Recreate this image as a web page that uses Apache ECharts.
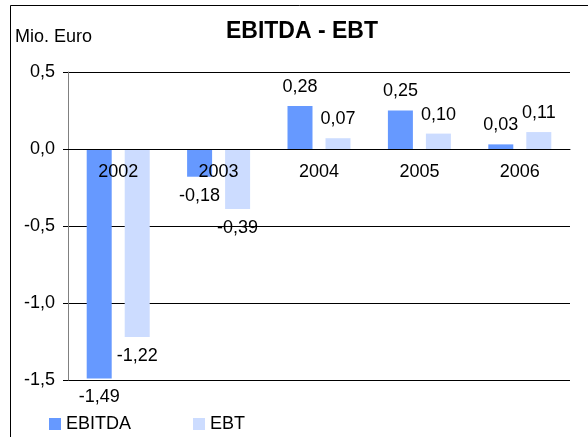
<!DOCTYPE html>
<html>
<head>
<meta charset="utf-8">
<script src="https://cdn.jsdelivr.net/npm/echarts@6/dist/echarts.min.js"></script>
<style>
  html, body { margin: 0; padding: 0; background: #fff; }
  #chart { width: 588px; height: 437px; }
</style>
</head>
<body>
<div id="chart"></div>
<script>
const years = ['2002', '2003', '2004', '2005', '2006']
const ebitda = [-1.49, -0.18, 0.28, 0.25, 0.03]
const ebt = [-1.22, -0.39, 0.07, 0.10, 0.11]

const font = 'Liberation Sans, Arial, sans-serif'
const comma = (v, d) => v.toFixed(d).replace('.', ',')

function valueLabels(values) {
  return values.map(v => ({
    value: v,
    label: { position: v < 0 ? 'bottom' : 'top', distance: 10 },
  }))
}

// grid is 308px tall, zero sits 231px above its bottom edge
const chart = echarts.init(document.getElementById('chart'))
chart.setOption({
  animation: false,
  textStyle: { fontFamily: font },
  title: {
    text: 'EBITDA - EBT',
    left: 302,
    textAlign: 'center',
    top: 20,
    padding: 0,
    textStyle: { fontSize: 23, fontWeight: 'bold', color: '#000', fontFamily: font },
  },
  graphic: [
    { type: 'rect', shape: { x: 10.5, y: 5.5, width: 700, height: 600 }, style: { fill: 'none', stroke: '#000', lineWidth: 1 } },
    { type: 'text', left: 15, top: 28, style: { text: 'Mio. Euro', fontSize: 18, fill: '#000', fontFamily: font } },
  ],
  legend: {
    left: 49,
    top: 415,
    padding: 0,
    icon: 'rect',
    itemWidth: 12,
    itemHeight: 12,
    itemGap: 62,
    textStyle: { fontSize: 18, color: '#000', fontFamily: font },
    data: ['EBITDA', 'EBT'],
  },
  grid: { left: 68, right: 18, top: 72, bottom: 57 },
  xAxis: {
    type: 'category',
    data: years,
    position: 'bottom',
    offset: -231,
    z: 10,
    axisLine: { onZero: false, lineStyle: { color: '#000', width: 1 } },
    axisTick: { length: 5, lineStyle: { color: '#000' } },
    axisLabel: { fontSize: 18, color: '#000', margin: 14, fontFamily: font },
  },
  yAxis: {
    type: 'value',
    min: -1.5,
    max: 0.5,
    interval: 0.5,
    axisLine: { show: true, lineStyle: { color: '#808080' } },
    axisTick: { show: true, length: 5, lineStyle: { color: '#000' } },
    axisLabel: { fontSize: 18, color: '#000', margin: 13, fontFamily: font, formatter: v => comma(v, 1) },
    splitLine: { lineStyle: { color: '#000', width: 1 } },
  },
  series: [
    {
      name: 'EBITDA',
      type: 'bar',
      data: valueLabels(ebitda),
      barWidth: 25,
      barGap: '52%',
      itemStyle: { color: '#6699ff' },
      label: { show: true, fontSize: 18, color: '#000', fontFamily: font, formatter: p => comma(p.value, 2) },
    },
    {
      name: 'EBT',
      type: 'bar',
      data: valueLabels(ebt),
      barWidth: 25,
      itemStyle: { color: '#ccdcff' },
      label: { show: true, fontSize: 18, color: '#000', fontFamily: font, formatter: p => comma(p.value, 2) },
    },
  ],
})
</script>
</body>
</html>
